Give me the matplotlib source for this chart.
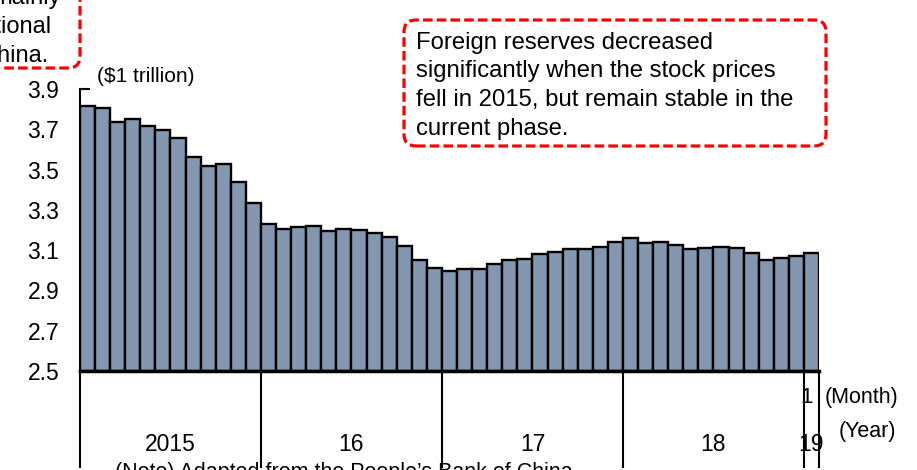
import matplotlib
matplotlib.use("Agg")
import matplotlib.pyplot as plt
import matplotlib.transforms as mtransforms
from matplotlib.patches import FancyBboxPatch

plt.rcParams['font.family'] = ['Liberation Sans', 'DejaVu Sans']

# China foreign exchange reserves, $1 trillion, Jan 2015 - Jan 2019
reserves_2015 = [3.817, 3.806, 3.735, 3.753, 3.715, 3.696, 3.655, 3.561, 3.518, 3.528, 3.438, 3.332]
reserves_2016 = [3.230, 3.204, 3.213, 3.220, 3.195, 3.205, 3.201, 3.185, 3.165, 3.120, 3.050, 3.010]
reserves_2017 = [2.998, 3.005, 3.008, 3.030, 3.053, 3.056, 3.081, 3.091, 3.107, 3.107, 3.117, 3.139]
reserves_2018 = [3.160, 3.134, 3.142, 3.125, 3.107, 3.110, 3.115, 3.110, 3.087, 3.051, 3.061, 3.071]
reserves_2019 = [3.087]
values = reserves_2015 + reserves_2016 + reserves_2017 + reserves_2018 + reserves_2019

year_labels = ["2015", "16", "17", "18", "19"]
year_lengths = [12, 12, 12, 12, 1]
y_ticks = [2.5, 2.7, 2.9, 3.1, 3.3, 3.5, 3.7, 3.9]

note_lines = ["Foreign reserves decreased",
              "significantly when the stock prices",
              "fell in 2015, but remain stable in the",
              "current phase."]

W, H = 917, 470
fig = plt.figure(figsize=(W / 100, H / 100), dpi=100)
ax = fig.add_axes([80 / W, 99 / H, (819 - 80) / W, (371 - 89) / H])

x = list(range(len(values)))
ax.bar(x, [v - 2.5 for v in values], bottom=2.5, width=1.0,
       color="#8497b0", edgecolor="black", linewidth=1.7, zorder=2)

ax.set_xlim(-0.5, len(values) - 0.5)
ax.set_ylim(2.5, 3.9)
ax.set_yticks(y_ticks)
ax.set_yticklabels([f"{t:.1f}" for t in y_ticks], fontsize=16.5)
ax.tick_params(axis="y", direction="in", length=7, width=1.5, pad=15)
ax.set_xticks([])
for s in ["top", "right"]:
    ax.spines[s].set_visible(False)
ax.spines["left"].set_linewidth(1.5)
ax.spines["bottom"].set_linewidth(2.5)
ax.spines["bottom"].set_zorder(3)

# year separators under the axis
trans = mtransforms.blended_transform_factory(ax.transData, ax.transAxes)
edges = [-0.5]
for n in year_lengths:
    edges.append(edges[-1] + n)
for e in edges:
    ax.plot([e, e], [0, -0.34], color="black", lw=1.5, transform=trans, clip_on=False)

label_y = -0.262
for i, lab in enumerate(year_labels):
    centre = (edges[i] + edges[i + 1]) / 2
    ax.text(centre, label_y, lab, transform=trans, ha="center", va="center", fontsize=16.5)
ax.text(len(values) - 1.3, -0.095, "1", transform=trans, ha="center", va="center", fontsize=16)

fig.text(825 / W, 1 - 397 / H, "(Month)", ha="left", va="center", fontsize=15.5)
fig.text(839 / W, 1 - 431 / H, "(Year)", ha="left", va="center", fontsize=15.5)
fig.text(97 / W, 1 - 76 / H, "($1 trillion)", ha="left", va="center", fontsize=15)
fig.text(115 / W, 1 - 478 / H, "(Note) Adapted from the People\u2019s Bank of China.",
         ha="left", va="baseline", fontsize=15.5)


def dashed_box(x0, y0, x1, y1):
    # pixel coordinates measured from the top-left corner
    box = FancyBboxPatch((x0, H - y1), x1 - x0, y1 - y0,
                         boxstyle="round,pad=0,rounding_size=12",
                         transform=mtransforms.IdentityTransform(),
                         facecolor="white", edgecolor="#ff0000", lw=2.3,
                         linestyle=(0, (3, 1.3)), zorder=5)
    fig.add_artist(box)


dashed_box(404, 20, 826, 146)
for i, line in enumerate(note_lines):
    fig.text(416 / W, 1 - (48.7 + 28.7 * i) / H, line,
             ha="left", va="baseline", fontsize=17.2, zorder=6)

dashed_box(-200, -60, 80, 68)
for yy, xr, line in [(4, 61, "mainly"), (33, 52, "international"), (62, 49, "China.")]:
    fig.text(xr / W, 1 - yy / H, line, ha="right", va="baseline", fontsize=17, zorder=6)

fig.savefig("out.png", dpi=100)
